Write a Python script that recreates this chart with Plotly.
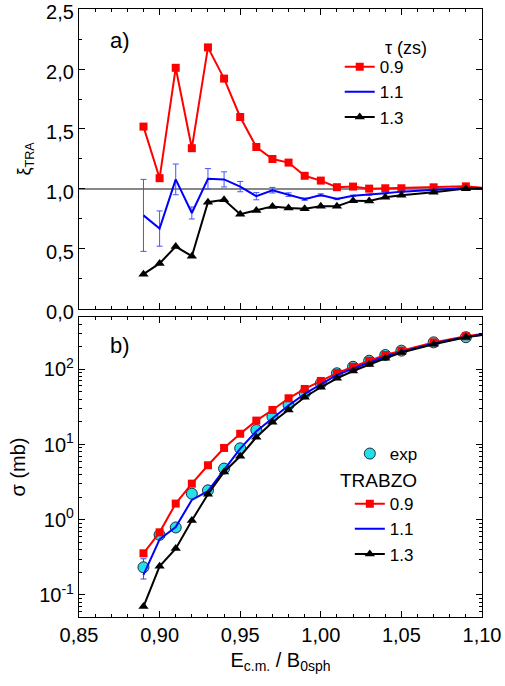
import plotly.graph_objects as go

# ---------------- data ----------------
energy = [0.89, 0.90, 0.91, 0.92, 0.93, 0.94, 0.95, 0.96, 0.97, 0.98, 0.99,
          1.00, 1.01, 1.02, 1.03, 1.04, 1.05, 1.07, 1.09, 1.11]

# panel a) xi_TRA for tau = 0.9, 1.1, 1.3 zs
xi_09 = [1.52, 1.09, 2.01, 1.34, 2.18, 1.92, 1.60, 1.35, 1.25, 1.22, 1.11,
         1.07, 1.015, 1.02, 1.003, 1.006, 1.006, 1.014, 1.022, 1.00]
xi_11 = [0.78, 0.67, 1.08, 0.80, 1.085, 1.08, 1.02, 0.94, 0.99, 0.953, 0.915,
         0.95, 0.917, 0.944, 0.953, 0.964, 0.978, 0.994, 1.008, 1.00]
xi_11_err = [0.30, 0.147, 0.128, 0.05, 0.085, 0.063, 0.043, 0.03, 0.023, 0.015, 0.01,
             0.01, 0.006, 0.005, 0.005, 0.004, 0.004, 0.004, 0.004, 0.0]
xi_13 = [0.29, 0.38, 0.52, 0.44, 0.89, 0.91, 0.79, 0.82, 0.855, 0.842, 0.836,
         0.856, 0.856, 0.903, 0.90, 0.931, 0.947, 0.972, 1.003, 1.00]

# panel b) cross sections (mb)
sig_09 = [0.358, 0.68, 1.64, 3.02, 5.3, 9.0, 13.9, 20.8, 28.8, 41.2, 54.8,
          70, 89, 108, 130, 155, 177, 228, 275, 315]
sig_11 = [0.185, 0.55, 0.80, 1.83, 2.4, 4.6, 8.8, 15.0, 22.0, 33.0, 47.0,
          63, 84, 102, 124, 148, 170, 220, 268, 310]
sig_13 = [0.07, 0.24, 0.413, 0.98, 2.18, 4.32, 6.98, 12.5, 19.8, 28.8, 42.5,
          57.7, 75.9, 95, 116, 140, 167, 215, 266, 308]

energy_exp = [0.89, 0.90, 0.91, 0.92, 0.93, 0.94, 0.95, 0.96, 0.97, 0.98, 0.99,
              1.00, 1.01, 1.02, 1.03, 1.04, 1.05, 1.07, 1.09]
sig_exp = [0.233, 0.63, 0.79, 2.22, 2.46, 4.79, 8.9, 15.6, 23.5, 33.6, 48,
           65, 88.5, 108, 130, 155, 177, 228, 267]
sig_exp_err = [0.07, 0.06, 0.04, 0.2, 0.12, 0.2, 0.3, 0.5, 0.7, 1.0, 1.3,
               1.6, 2.0, 2.4, 2.8, 3.2, 3.5, 4.5, 5.0]

# ---------------- styling ----------------
RED = "#ff0000"
BLUE = "#0000ff"
BLACK = "#000000"
FONT = "Liberation Sans, Arial, sans-serif"

fig = go.Figure()

# ---- panel a ----
fig.add_trace(go.Scatter(x=energy, y=xi_09, mode="lines+markers", name="0.9",
                         line=dict(color=RED, width=2),
                         marker=dict(symbol="square", size=8, color=RED),
                         xaxis="x", yaxis="y", legend="legend"))
fig.add_trace(go.Scatter(x=energy, y=xi_11, mode="lines", name="1.1",
                         line=dict(color=BLUE, width=2),
                         error_y=dict(type="data", array=xi_11_err, color="#4455ff",
                                      thickness=1, width=3),
                         xaxis="x", yaxis="y", legend="legend"))
fig.add_trace(go.Scatter(x=energy, y=xi_13, mode="lines+markers", name="1.3",
                         line=dict(color=BLACK, width=2),
                         marker=dict(symbol="triangle-up", size=9, color=BLACK),
                         xaxis="x", yaxis="y", legend="legend"))

# ---- panel b ----
fig.add_trace(go.Scatter(x=energy_exp, y=sig_exp, mode="markers", name="exp",
                         marker=dict(symbol="circle", size=11, color="#22e0e8",
                                     line=dict(color="#1a2a40", width=1)),
                         error_y=dict(type="data", array=sig_exp_err, color="#3344ff",
                                      thickness=1, width=3),
                         xaxis="x2", yaxis="y2", legend="legend2"))
fig.add_trace(go.Scatter(x=[None], y=[None], mode="lines", name=" ",
                         line=dict(color="rgba(0,0,0,0)", width=0),
                         xaxis="x2", yaxis="y2", legend="legend2"))
fig.add_trace(go.Scatter(x=energy, y=sig_09, mode="lines+markers", name="0.9",
                         line=dict(color=RED, width=2),
                         marker=dict(symbol="square", size=8, color=RED),
                         xaxis="x2", yaxis="y2", legend="legend2"))
fig.add_trace(go.Scatter(x=energy, y=sig_11, mode="lines", name="1.1",
                         line=dict(color=BLUE, width=2),
                         xaxis="x2", yaxis="y2", legend="legend2"))
fig.add_trace(go.Scatter(x=energy, y=sig_13, mode="lines+markers", name="1.3",
                         line=dict(color=BLACK, width=2),
                         marker=dict(symbol="triangle-up", size=9, color=BLACK),
                         xaxis="x2", yaxis="y2", legend="legend2"))

common = dict(showline=True, linecolor="black", linewidth=1.3, mirror="allticks",
              ticks="inside", tickcolor="black", tickwidth=1, ticklen=6,
              showgrid=False, zeroline=False, ticklabeloverflow="allow",
              automargin=False)

x_minor = dict(ticks="inside", ticklen=3, tickcolor="black", dtick=0.01,
               tick0=0.85, showgrid=False)

fig.update_layout(
    width=505, height=686,
    margin=dict(l=79, r=23, t=9, b=69, autoexpand=False),
    paper_bgcolor="white", plot_bgcolor="white",
    separators=",.",
    font=dict(family=FONT, size=20, color="black"),
    showlegend=True,
    xaxis=dict(domain=[0, 1], anchor="y", range=[0.85, 1.10], dtick=0.05, tick0=0.85,
               showticklabels=False, minor=x_minor, **common),
    yaxis=dict(domain=[0.5066, 1], anchor="x", range=[0, 2.5], dtick=0.5,
               tickformat=".1f", ticklabelshift=3,
               minor=dict(ticks="inside", ticklen=3, tickcolor="black", dtick=0.25,
                          showgrid=False),
               title=dict(text="ξ<sub>TRA</sub>", font=dict(size=18), standoff=10),
               **common),
    xaxis2=dict(domain=[0, 1], anchor="y2", range=[0.85, 1.10], dtick=0.05, tick0=0.85,
                tickformat=".2f", minor=x_minor,
                title=dict(text="E<sub>c.m.</sub> / B<sub>0sph</sub>", font=dict(size=20),
                           standoff=7),
                **common),
    yaxis2=dict(domain=[0, 0.4934], anchor="x2", type="log", range=[-1.293, 2.695],
                tickvals=[0.1, 1, 10, 100],
                ticktext=["10<sup>-1</sup>", "10<sup>0</sup>", "10<sup>1</sup>", "10<sup>2</sup>"],
                minor=dict(ticks="inside", ticklen=3, tickcolor="black", dtick="D1",
                           showgrid=False),
                title=dict(text="σ (mb)", font=dict(size=20), standoff=8),
                **common),
    legend=dict(x=0.647, y=0.934, xanchor="left", yanchor="top",
                bgcolor="rgba(0,0,0,0)", font=dict(size=17), tracegroupgap=0),
    legend2=dict(x=0.672, y=0.2977, xanchor="left", yanchor="top",
                 bgcolor="rgba(0,0,0,0)", font=dict(size=17), tracegroupgap=0),
    shapes=[dict(type="line", xref="x domain", yref="y", x0=0, x1=1, y0=1, y1=1,
                 line=dict(color="#606060", width=1.5), layer="below")],
    annotations=[
        dict(text="a)", xref="paper", yref="paper", x=(108 - 79) / 403, y=1 - (40 - 9) / 608,
             xanchor="left", yanchor="middle", showarrow=False, font=dict(size=22)),
        dict(text="b)", xref="paper", yref="paper", x=(108 - 79) / 403, y=1 - (345 - 9) / 608,
             xanchor="left", yanchor="middle", showarrow=False, font=dict(size=22)),
        dict(text="τ (zs)", xref="paper", yref="paper", x=(383 - 79) / 403, y=1 - (48 - 9) / 608,
             xanchor="left", yanchor="middle", showarrow=False, font=dict(size=18)),
        dict(text="TRABZO", xref="paper", yref="paper", x=(338 - 79) / 403, y=1 - (480 - 9) / 608,
             xanchor="left", yanchor="middle", showarrow=False, font=dict(size=19)),
    ],
)

fig.write_html("out.html")
